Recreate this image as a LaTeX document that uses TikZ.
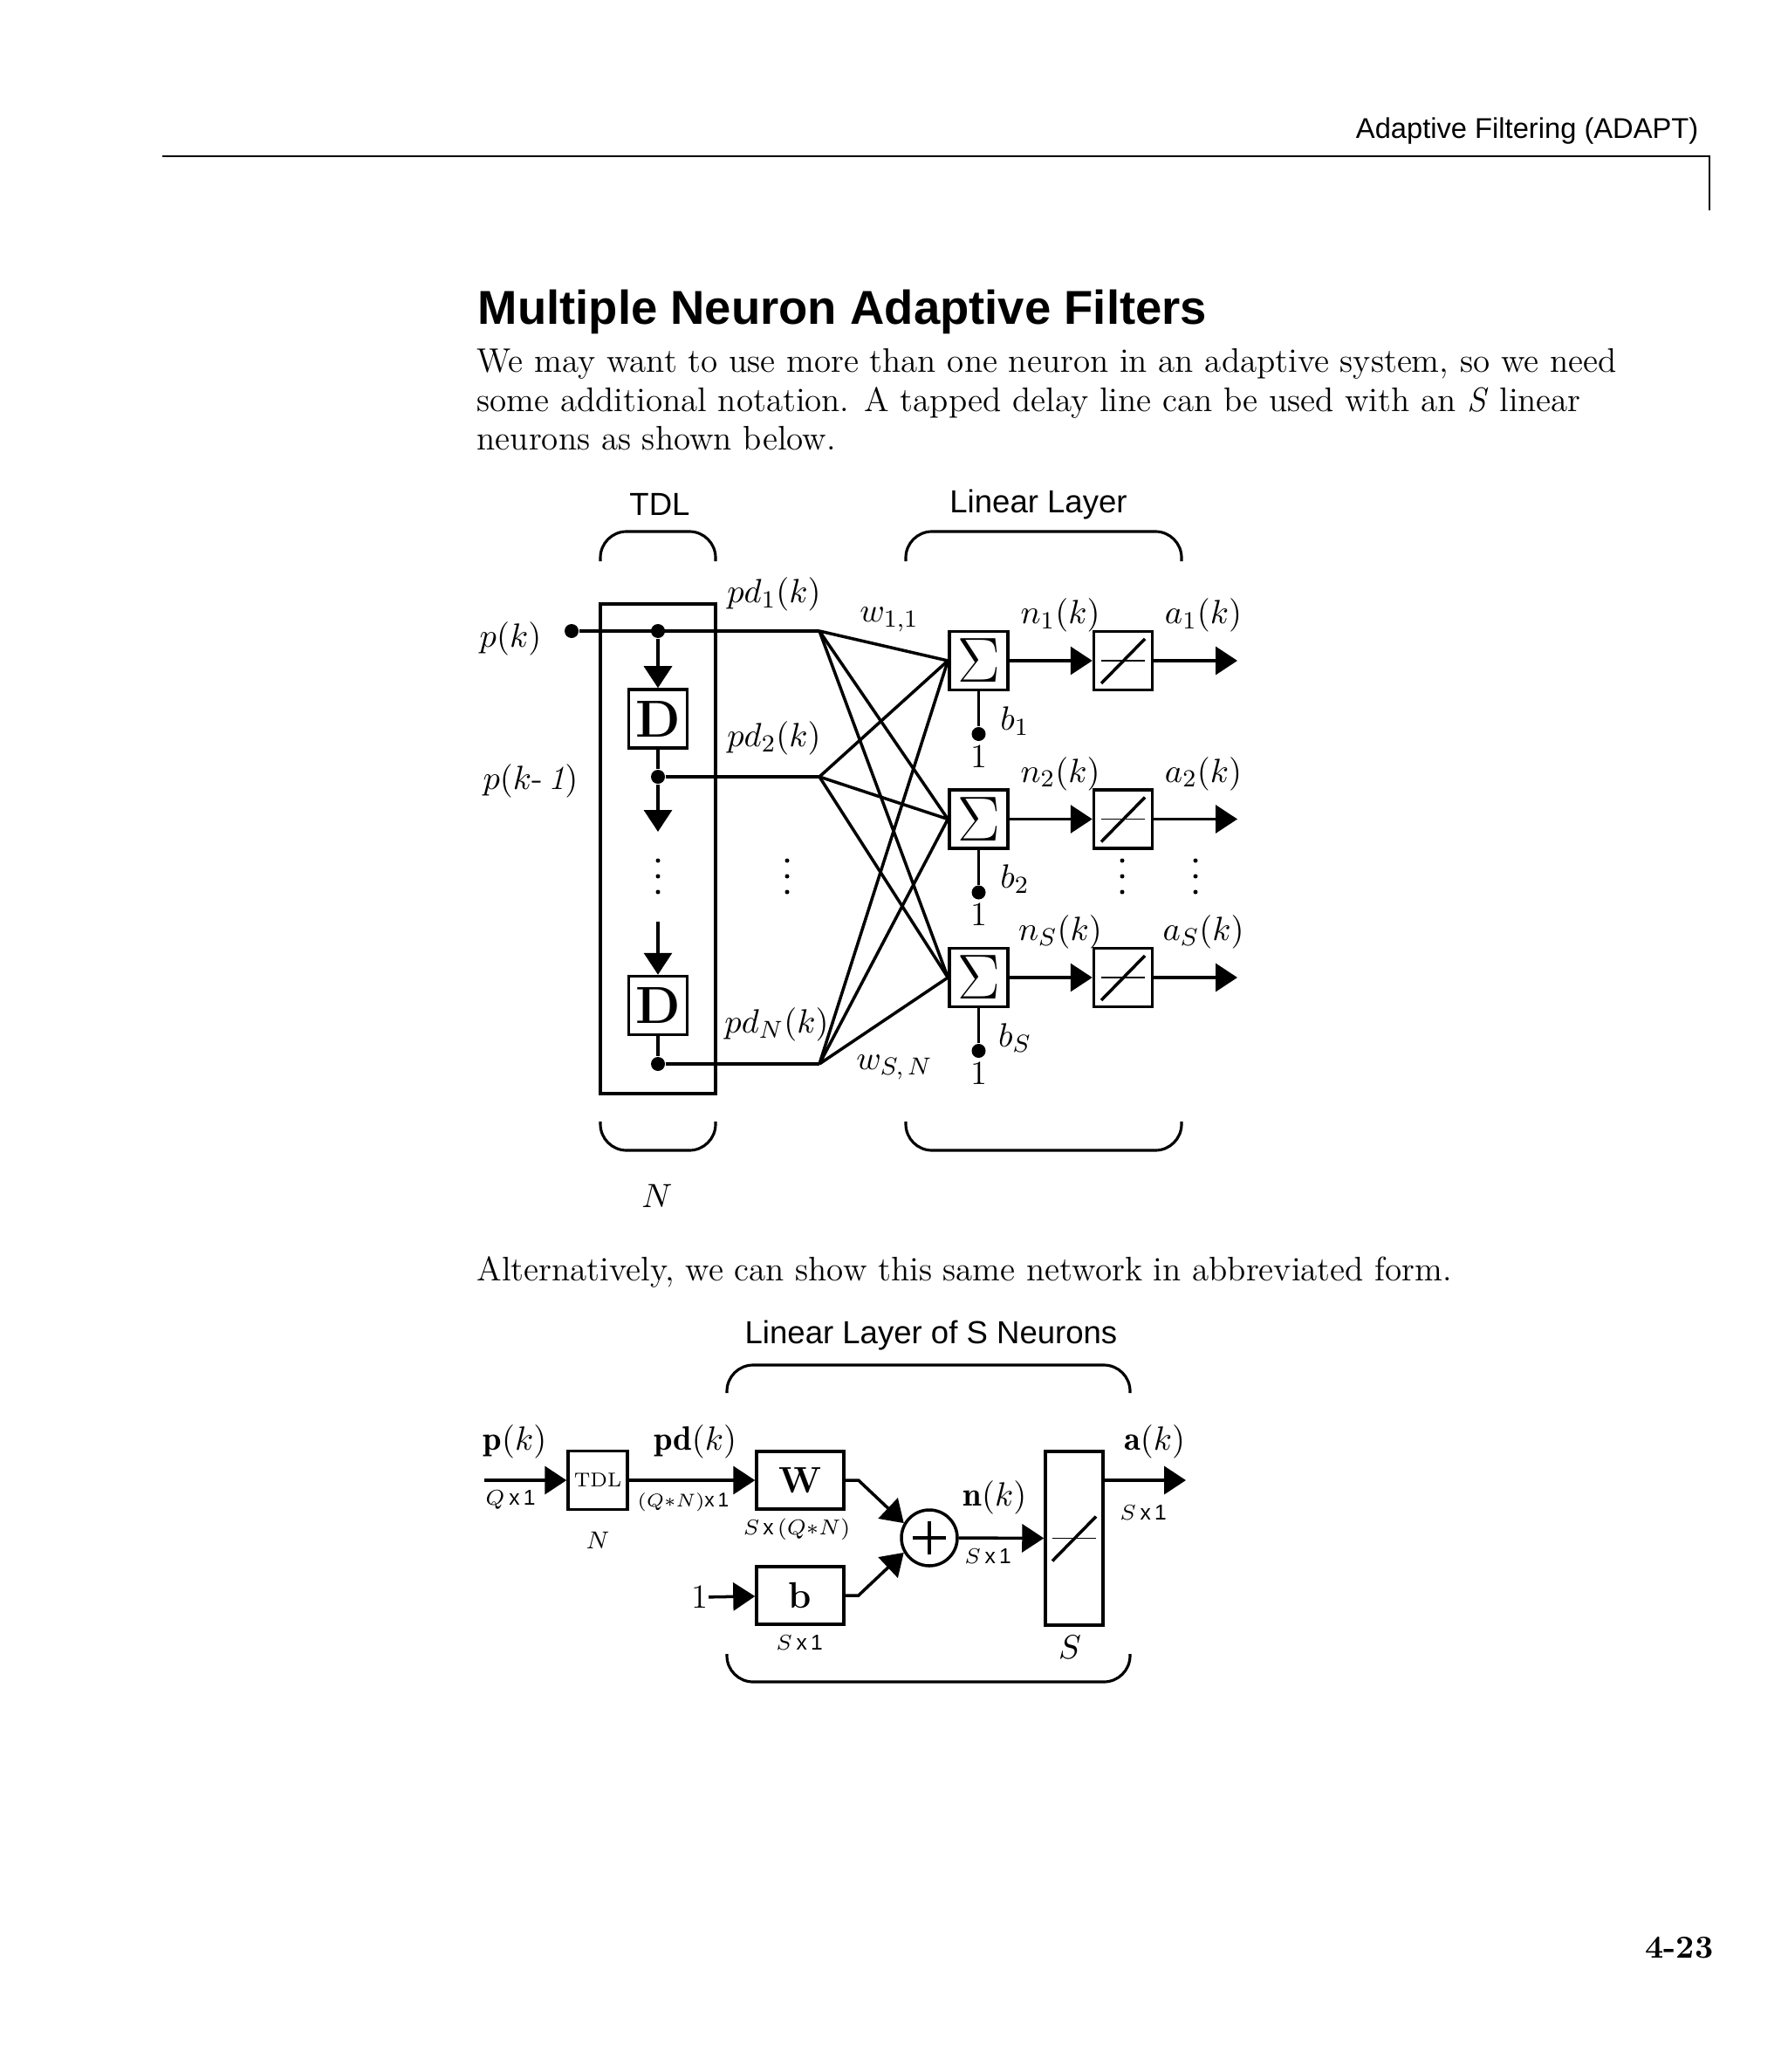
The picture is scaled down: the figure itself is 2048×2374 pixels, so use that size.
\documentclass[tikz,border=0pt]{standalone}
\usepackage{fontspec}
\usepackage{tikz}
\usetikzlibrary{arrows.meta,positioning,calc}
\newfontfamily\hdsans{Liberation Sans}
\tikzset{
  wire/.style={line width=1pt},
  arr/.style={wire, -{Triangle[length=2.5mm,width=3.2mm]}},
  brc/.style={line width=0.9pt, rounded corners=3mm},
  box/.style={draw, line width=1pt, minimum width=6.7mm, minimum height=6.7mm, inner sep=0pt},
  dbox/.style={box, font=\bfseries\fontsize{17}{17}\selectfont},
  sgbox/.style={box, font=\fontsize{20}{20}\selectfont},
  tfbox/.style={box, path picture={
      \draw[line width=0.5pt] ([xshift=-2.5mm]path picture bounding box.center) -- ([xshift=2.5mm]path picture bounding box.center);
      \draw[line width=1pt] ([shift={(-2.5mm,-2.6mm)}]path picture bounding box.center) -- ([shift={(2.5mm,2.5mm)}]path picture bounding box.center);}},
  sumnode/.style={circle, draw, line width=1pt, minimum size=6.4mm, inner sep=0pt, path picture={
      \draw[line width=1pt] ([xshift=-1.9mm]path picture bounding box.center) -- ([xshift=1.9mm]path picture bounding box.center);
      \draw[line width=1pt] ([yshift=-1.9mm]path picture bounding box.center) -- ([yshift=1.9mm]path picture bounding box.center);}},
  dot/.style={circle, fill, inner sep=0pt, minimum size=1.6mm},
  lbl/.style={inner sep=0pt, font=\fontsize{11}{13}\selectfont},
  sml/.style={inner sep=0pt, font=\fontsize{7}{8}\selectfont},
  sanslbl/.style={inner sep=0pt, font=\hdsans\fontsize{10.4}{12}\selectfont},
  body/.style={inner sep=0pt, anchor=base west, font=\fontsize{11.1}{12.5}\selectfont},
}

\begin{document}
\begin{tikzpicture}[x=0.1mm, y=-0.1mm]
\useasboundingbox (0,0) rectangle (2048,2374);

% page head
\node[anchor=base east, inner sep=0pt, font=\hdsans\fontsize{9.3}{11}\selectfont] (hdr) at (1947,159) {Adaptive Filtering (ADAPT)};
\draw[line width=0.6pt] (186,179) -- (1959,179) -- (1959,241);
\node[anchor=base west, inner sep=0pt, font=\hdsans\bfseries\fontsize{15.5}{17}\selectfont] (ttl) at (547,372) {Multiple Neuron Adaptive Filters};
\node[body] (par1) at (546,427) {We may want to use more than one neuron in an adaptive system, so we need};
\node[body] (par2) at (546,471) {some additional notation. A tapped delay line can be used with an \textit{S} linear};
\node[body] (par3) at (546,515) {neurons as shown below.};

% tapped delay line
\node[sanslbl] (tdllbl) at (756,578) {TDL};
\node[sanslbl] (linlbl) at (1190,578) {Linear Layer};
\draw[brc] (688,643) -- (688,609) -- (820,609) -- (820,643);
\draw[brc] (1038,643) -- (1038,609) -- (1354,609) -- (1354,643);
\draw[brc] (688,1285) -- (688,1318) -- (820,1318) -- (820,1285);
\draw[brc] (1038,1285) -- (1038,1318) -- (1354,1318) -- (1354,1285);
\node[lbl] (nlbl) at (753,1370) {$N$};

\node[draw, line width=1pt, minimum width=13.2mm, minimum height=56.1mm] (tdl) at (754,972.5) {};
\node[dot] (pin) at (655,723) {};
\node[dot] (t1) at (754,723) {};
\node[dbox] (d1) at (754,823.5) {D};
\node[dot] (t2) at (754,890) {};
\coordinate (a2) at (754,953);
\coordinate (a3) at (754,1056);
\node[dbox] (d2) at (754,1152) {D};
\node[dot] (t3) at (754,1219) {};
\coordinate (pd1) at (939,723);
\coordinate (pd2) at (939,890);
\coordinate (pd3) at (939,1219);

\draw[wire] (pin) -- (pd1);
\draw[wire] (d1) -- (t2) -- (pd2);
\draw[wire] (d2) -- (t3) -- (pd3);
\foreach \a/\b in {t1/d1, t2/a2, a3/d2}
  \draw[arr] (\a) -- (\b);

\node[lbl] at (585,732) {$p(k)$};
\node[lbl] at (608,895) {$p(k\mbox{-}\,\mathit{1})$};
\node[lbl] at (887,681) {$pd_1(k)$};
\node[lbl] at (887,846) {$pd_2(k)$};
\node[lbl] at (890,1174) {$pd_N(k)$};
\node[lbl] at (1019,710) {$w_{1,1}$};
\node[lbl] at (1025,1223) {$w_{S,\,N}$};

\foreach \x in {754,902,1286,1370}
  \foreach \y in {986,1004,1022}
    \fill (\x,\y) circle (0.25mm);

% linear neurons
\foreach \i/\y/\s in {1/757/1, 2/938.5/2, 3/1120/S} {
  \node[sgbox] (sg\i) at (1121.5,\y) {$\Sigma$};
  \node[tfbox] (lin\i) at (1287,\y) {};
  \coordinate (out\i) at (1418,\y);
  \node[dot] (bias\i) at (1121.5,\y+84) {};
  \node[lbl, below=0.3mm of bias\i] {1};
  \node[lbl] at (1163,\y+69) {$b_{\s}$};
  \node[lbl] at (1215,\y-52) {$n_{\s}(k)$};
  \node[lbl] at (1379,\y-52) {$a_{\s}(k)$};
  \draw[wire] (sg\i) -- (bias\i);
  \draw[arr] (sg\i) -- (lin\i);
  \draw[arr] (lin\i) -- (out\i);
}
\foreach \j in {1,2,3}
  \foreach \i in {1,2,3}
    \draw[wire] (pd\j) -- (sg\i.west);

\node[body] (par4) at (546,1467) {Alternatively, we can show this same network in abbreviated form.};

% abbreviated form
\node[sanslbl] (lllbl) at (1067,1530) {Linear Layer of S Neurons};
\draw[brc] (833,1596) -- (833,1564) -- (1295,1564) -- (1295,1596);
\draw[brc] (833,1895) -- (833,1927) -- (1295,1927) -- (1295,1895);

\coordinate (in2) at (555,1696);
\node[box, minimum width=6.8mm, font=\fontsize{6.5}{7}\selectfont] (tdl2) at (685,1696) {TDL};
\node[box, minimum width=10mm, minimum height=6.6mm, font=\bfseries\fontsize{12}{12}\selectfont] (wt) at (917,1696) {W};
\node[box, minimum width=10mm, minimum height=6.6mm, font=\bfseries\fontsize{12}{12}\selectfont] (bs) at (917,1828) {b};
\node[lbl] (one) at (802,1830) {1};
\node[sumnode] (sum) at (1065,1762) {};
\node[tfbox, minimum width=6.6mm, minimum height=19.9mm] (lin) at (1231,1762.5) {};
\coordinate (aout) at (1359,1696);

\foreach \a/\b in {in2/tdl2, tdl2/wt, one/bs, sum/lin}
  \draw[arr] (\a) -- (\b);
\draw[arr] (wt.east) -- ++(1.5mm,0) -- (sum.150);
\draw[arr] (bs.east) -- ++(1.5mm,0) -- (sum.210);
\draw[arr] (lin.east |- aout) -- (aout);

\node[lbl] at (590,1652) {$\mathbf{p}(k)$};
\node[sml] at (585,1718) {$Q\,$\hdsans x\,1};
\node[sml, font=\fontsize{8}{9}\selectfont] at (685,1765) {$N$};
\node[lbl] at (797,1652) {$\mathbf{pd}(k)$};
\node[sml, font=\fontsize{6.5}{7}\selectfont] at (783,1721) {$(Q{*}N)$\hdsans x\,1};
\node[sml] at (913,1752) {$S$\,{\hdsans x}\,$(Q{*}N)$};
\node[sml] at (916,1882) {$S\,$\hdsans x\,1};
\node[lbl] at (1140,1716) {$\mathbf{n}(k)$};
\node[sml] at (1132,1783) {$S\,$\hdsans x\,1};
\node[lbl] at (1323,1652) {$\mathbf{a}(k)$};
\node[sml] at (1310,1733) {$S\,$\hdsans x\,1};
\node[lbl] at (1226,1887) {$S$};

\node[anchor=base east, inner sep=0pt, font=\bfseries\fontsize{10.5}{12}\selectfont] (pg) at (1964,2243) {4-23};
\end{tikzpicture}
\end{document}
